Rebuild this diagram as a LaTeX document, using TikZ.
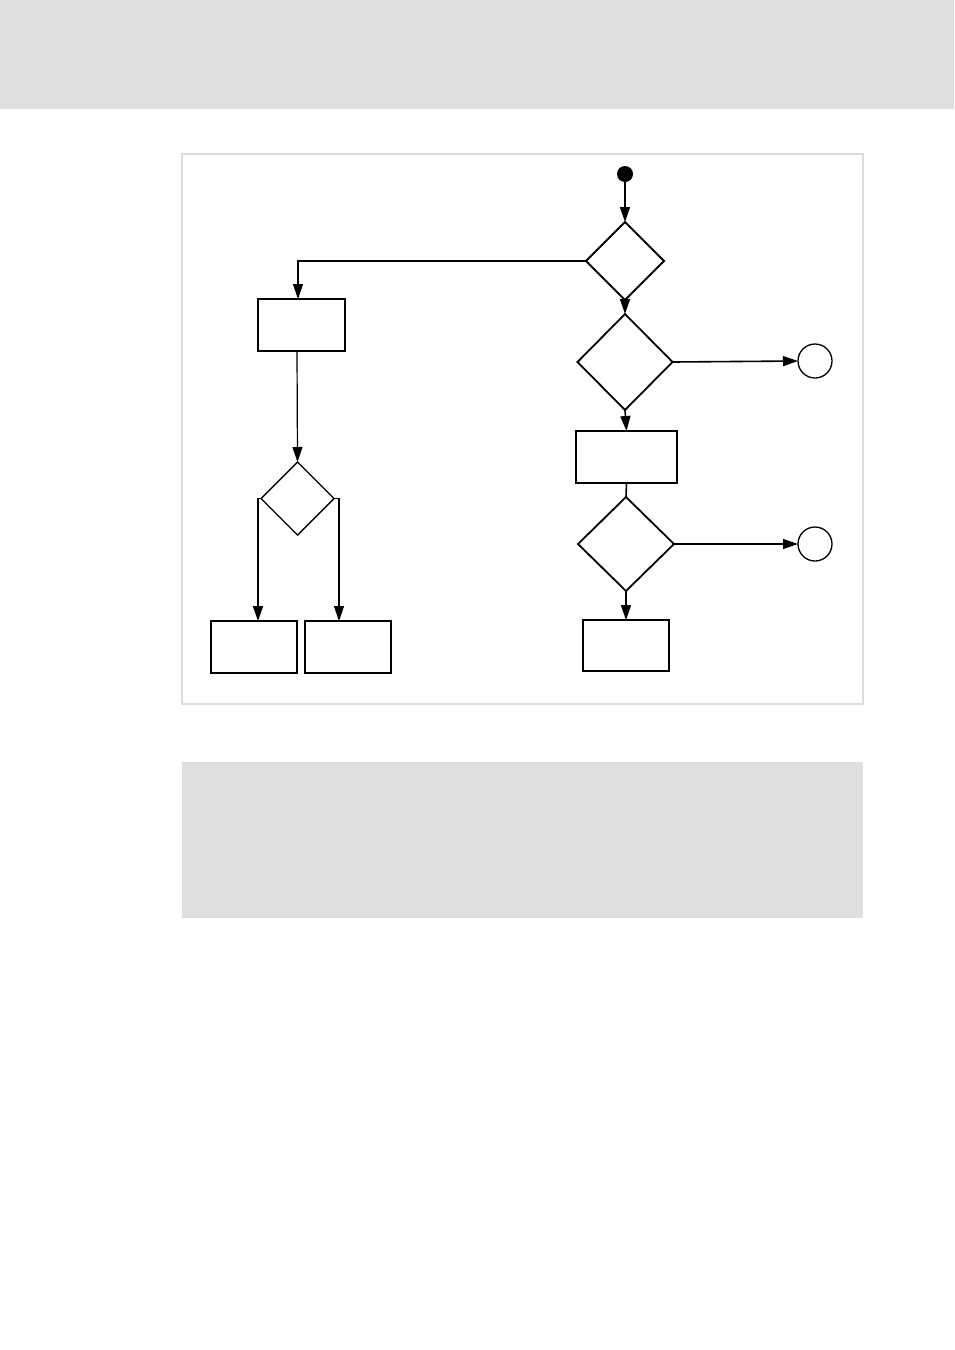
\documentclass[tikz,border=0pt]{standalone}
\usetikzlibrary{shapes.geometric,arrows.meta}
\definecolor{bandgray}{HTML}{DFDFDF}
\definecolor{framegray}{HTML}{DCDCDC}
\begin{document}
\begin{tikzpicture}[x=1pt,y=-1pt,
  every node/.style={inner sep=0pt,outer sep=0pt},
  boxnode/.style={draw,line width=1.8pt,rectangle},
  dia/.style={draw,line width=1.8pt,diamond,aspect=1},
  endc/.style={draw,line width=1.3pt,circle,minimum size=34pt},
  conn/.style={line width=1.6pt,-{Triangle[length=15pt,width=10pt]}},
  thinconn/.style={line width=1.2pt,-{Triangle[length=15pt,width=10pt]}},
  plain/.style={line width=1.6pt}]
\useasboundingbox (0,0) rectangle (954,1350);
\fill[bandgray] (0,0) rectangle (954,109);
\draw[framegray,line width=2pt] (182,154) rectangle (863,704);
\fill[bandgray] (182,762) rectangle (863,918);

\node[circle,fill=black,minimum size=16pt] (start) at (625,174) {};
\node[dia,minimum width=78pt,minimum height=78pt] (d1) at (625,261) {};
\node[dia,minimum width=95pt,minimum height=96pt] (d2) at (625,362) {};
\node[endc] (c1) at (815,361) {};
\node[boxnode,minimum width=101pt,minimum height=52pt] (b4) at (626.5,457) {};
\node[dia,minimum width=96pt,minimum height=94pt] (d4) at (626,544) {};
\node[endc] (c2) at (815,544) {};
\node[boxnode,minimum width=86pt,minimum height=51pt] (b5) at (626,645.5) {};

\node[boxnode,minimum width=87pt,minimum height=52pt,line width=1.3pt] (b1) at (301.5,325) {};
\node[dia,minimum width=73pt,minimum height=73pt,line width=1.4pt] (d3) at (297.5,498.5) {};
\node[boxnode,minimum width=86pt,minimum height=52pt] (b2) at (254,647) {};
\node[boxnode,minimum width=86pt,minimum height=52pt] (b3) at (348,647) {};

\coordinate (k1) at (298,261);
\coordinate (kl) at (258,498.5);
\coordinate (kr) at (339,498.5);

\draw[conn] (start) -- (d1.north);
\draw[conn] (d1.south) -- (d2.north);
\draw[conn] (d2.east) -- (c1.west);
\draw[conn] (d2.south) -- (b4.north);
\draw[plain] (b4.south) -- (d4.north);
\draw[thinconn] (d4.east) -- (c2.west);
\draw[conn] (d4.south) -- (b5.north);

\draw[thinconn] (d1.west) -- (k1) -- (k1 |- b1.north);
\draw[thinconn] (b1.south -| 297,0) -- (d3.north);
\draw[conn] (d3.west) -- (kl) -- (kl |- b2.north);
\draw[thinconn] (d3.east) -- (kr) -- (kr |- b3.north);
\end{tikzpicture}
\end{document}
